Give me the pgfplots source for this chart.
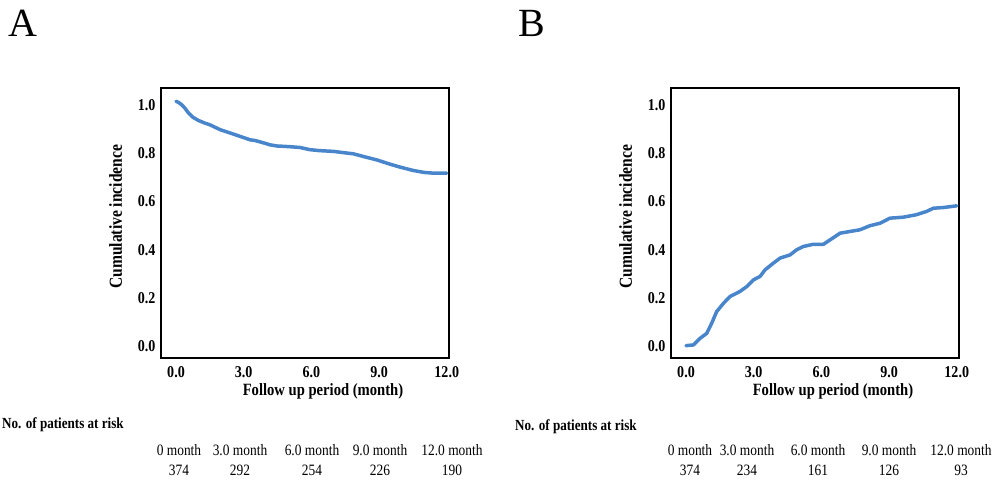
\documentclass[border=0pt]{standalone}
\usepackage{fontspec}
\setmainfont{Liberation Serif}[FakeStretch=0.85]
\newfontfamily\plainserif{Liberation Serif}
\usepackage{pgfplots}
\pgfplotsset{compat=1.18}
\definecolor{kmblue}{RGB}{72,133,202}
\newcommand{\fs}[1]{\fontsize{#1}{#1}\selectfont}
\pgfplotsset{kmaxis/.style={
  scale only axis, width=288pt, height=270pt, anchor=south west,
  xmin=-0.665, xmax=12.1, ymin=-0.047, ymax=1.069,
  xtick={0,3,6,9,12}, xticklabels={0.0,3.0,6.0,9.0,12.0},
  ytick={0,0.2,0.4,0.6,0.8,1.0}, yticklabels={0.0,0.2,0.4,0.6,0.8,1.0},
  major tick length=0pt,
  axis line style={line width=2pt},
  tick label style={font=\bfseries\fs{16.5}},
  yticklabel style={xshift=-2pt},
  xticklabel style={yshift=-5pt},
  xlabel={Follow up period (month)}, ylabel={Cumulative incidence},
  x label style={at={(axis description cs:0.5625,-0.1248)}, anchor=center, font=\bfseries\fs{17.2}},
  y label style={at={(axis description cs:-0.1573,0.523)}, anchor=center, font=\bfseries\fs{18.3}},
}}
\begin{document}
\begin{tikzpicture}
\path[use as bounding box] (0,0) rectangle (993pt,482pt);
\begin{axis}[kmaxis, at={(161pt,124pt)}]
\addplot[kmblue, line width=3.5pt, line join=round, line cap=round] coordinates {
(0.0,1.014) (0.1,1.01) (0.25,1.0) (0.4,0.985) (0.55,0.966) (0.75,0.948)
(0.99,0.935) (1.25,0.925) (1.5,0.917) (1.95,0.897) (2.4,0.883) (2.84,0.869)
(3.28,0.855) (3.5,0.852) (3.85,0.843) (4.17,0.834) (4.5,0.829) (4.76,0.828)
(5.1,0.826) (5.5,0.823) (5.94,0.814) (6.38,0.81) (6.98,0.807) (7.4,0.802)
(7.86,0.797) (8.3,0.786) (8.89,0.772) (9.49,0.754) (9.93,0.742) (10.52,0.728)
(11.0,0.72) (11.41,0.717) (12.0,0.717)
};
\end{axis}
\begin{axis}[kmaxis, at={(671pt,124pt)}]
\addplot[kmblue, line width=3.5pt, line join=round, line cap=round] coordinates {
(0.0,0.004) (0.33,0.007) (0.62,0.034) (0.92,0.055) (1.14,0.097) (1.36,0.145)
(1.66,0.179) (1.95,0.207) (2.39,0.228) (2.69,0.248) (2.99,0.276) (3.28,0.29)
(3.5,0.317) (3.87,0.345) (4.17,0.366) (4.61,0.379) (4.9,0.4) (5.2,0.414)
(5.64,0.423) (6.09,0.423) (6.38,0.441) (6.83,0.469) (7.27,0.476) (7.71,0.483)
(8.16,0.5) (8.6,0.51) (9.04,0.531) (9.63,0.535) (10.2,0.545) (10.67,0.559)
(10.96,0.572) (11.41,0.575) (12.0,0.582)
};
\end{axis}
% panel letters
\node[anchor=base west, inner sep=0pt, font=\plainserif\fs{40}] at (8pt,445pt) {A};
\node[anchor=base west, inner sep=0pt, font=\plainserif\fs{40}] at (518pt,445pt) {B};
% risk tables
\node[anchor=west, inner sep=0pt, font=\bfseries\fs{15.4}] at (2pt,57pt) {No. of patients at risk};
\node[anchor=west, inner sep=0pt, font=\bfseries\fs{15.4}] at (515pt,55pt) {No. of patients at risk};
\foreach \x/\m/\n in {179/0/374, 240/3.0/292, 312/6.0/254, 380/9.0/226, 452/12.0/190}{
  \node[anchor=center, inner sep=0pt, font=\fs{15.8}] at (\x pt,32pt) {\m\ month};
  \node[anchor=center, inner sep=0pt, font=\fs{15.8}] at (\x pt,12pt) {\n};
}
\foreach \x/\m/\n in {690/0/374, 747/3.0/234, 818/6.0/161, 889/9.0/126, 961/12.0/93}{
  \node[anchor=center, inner sep=0pt, font=\fs{15.8}] at (\x pt,32pt) {\m\ month};
  \node[anchor=center, inner sep=0pt, font=\fs{15.8}] at (\x pt,12pt) {\n};
}
\end{tikzpicture}
\end{document}
